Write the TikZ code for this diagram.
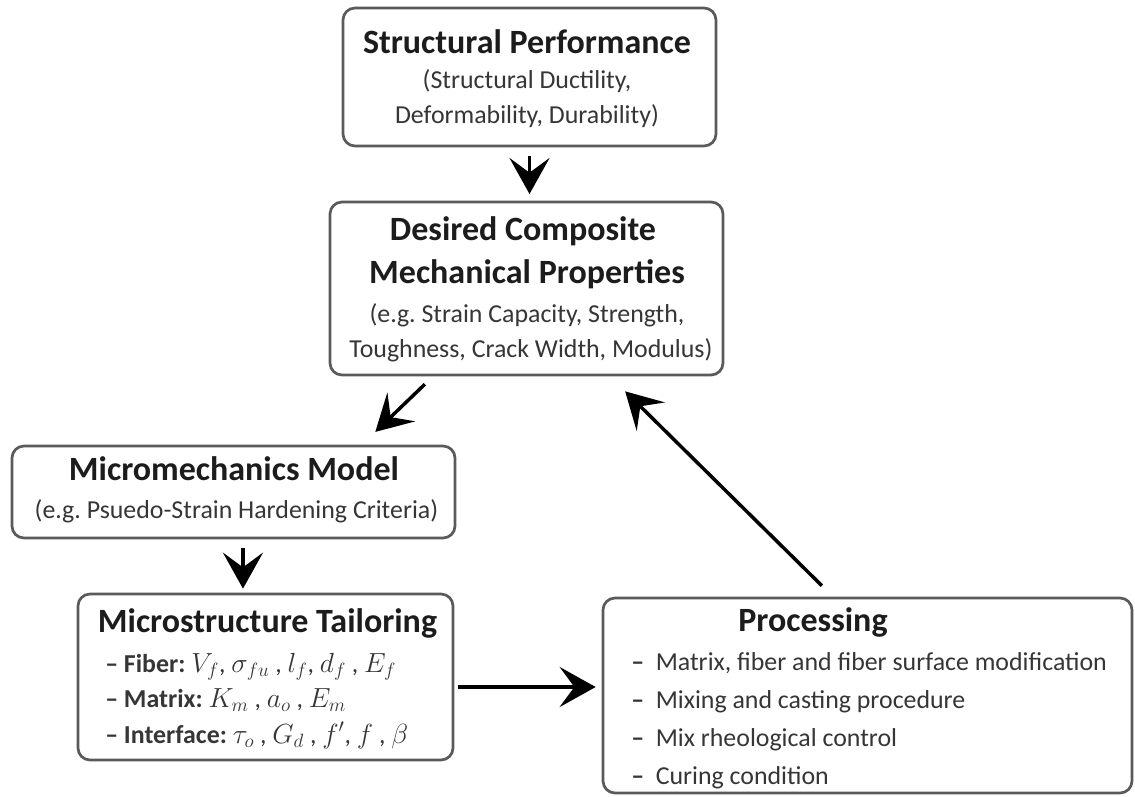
\documentclass[tikz,border=0pt]{standalone}
\usepackage{fontspec}
\setmainfont{Carlito}
\usetikzlibrary{arrows.meta}
\definecolor{boxc}{HTML}{5A5A5A}
\definecolor{titlec}{HTML}{1C1C1C}
\definecolor{subc}{HTML}{363636}
\frenchspacing
\begin{document}
\begin{tikzpicture}[x=0.75pt,y=-0.75pt,
  box/.style={draw=boxc, line width=2pt, rounded corners=9pt, fill=white, inner sep=0pt},
  ttl/.style={font=\fontsize{25.5}{30}\selectfont\bfseries, text=titlec, anchor=base, inner sep=0pt},
  sub/.style={font=\fontsize{19.4}{24}\selectfont, text=subc, anchor=base, inner sep=0pt},
  item/.style={font=\fontsize{19.4}{24}\selectfont, text=subc, anchor=base west, inner sep=0pt},
  arr/.style={line width=2.6pt, draw=black, -{Stealth[length=27pt,width=30pt,inset=11pt]}}]
\fill[white] (0,0) rectangle (1135,796);
\useasboundingbox (0,0) rectangle (1135,796);

% boxes
\node[box, minimum width=279.75pt, minimum height=103.5pt] (sp) at (529.5,77) {};
\node[box, minimum width=294.75pt, minimum height=129.75pt] (dc) at (526.5,288.5) {};
\node[box, minimum width=332.25pt, minimum height=69pt] (mm) at (233.5,492) {};
\node[box, minimum width=281.25pt, minimum height=124.5pt] (mt) at (265.5,677) {};
\node[box, minimum width=396.75pt, minimum height=146.25pt] (pr) at (867.5,695.5) {};

% texts
\node[ttl] (spt) at (527,53) {Structural Performance};
\node[sub] (sps1) at (527,88) {(Structural Ductility,};
\node[sub] (sps2) at (527,123) {Deformability, Durability)};

\node[ttl] (dct1) at (523,240) {Desired Composite};
\node[ttl] (dct2) at (527,283) {Mechanical Properties};
\node[sub] (dcs1) at (527,322) {(e.g. Strain Capacity, Strength,};
\node[sub] (dcs2) at (531,357) {Toughness, Crack Width, Modulus)};

\node[ttl] (mmt) at (234,480) {Micromechanics Model};
\node[sub] (mms) at (236.5,518) {(e.g. Psuedo-Strain Hardening Criteria)};

\node[ttl] (mtt) at (267.5,632) {Microstructure Tailoring};
\node[item] (mt1) at (105,672) {\textbf{– Fiber:} $V_f$, $\sigma_{fu}$ , $l_f$, $d_f$ , $E_f$};
\node[item] (mt2) at (105,707) {\textbf{– Matrix:} $K_m$ , $a_o$ , $E_m$};
\node[item] (mt3) at (105,743) {\textbf{– Interface:} $\tau_o$ , $G_d$ , $f'$, $f$ ,\ $\beta$};

\node[ttl] (prt) at (813,631) {Processing};
\node[item] (pr1) at (631,670) {\textbf{–}\hspace{0.45em}Matrix, fiber and fiber surface modification};
\node[item] (pr2) at (631,708) {\textbf{–}\hspace{0.45em}Mixing and casting procedure};
\node[item] (pr3) at (631,746) {\textbf{–}\hspace{0.45em}Mix rheological control};
\node[item] (pr4) at (631,784) {\textbf{–}\hspace{0.45em}Curing condition};

% arrows
\draw[arr, shorten <=6.75pt, shorten >=5pt] (sp.south) -- (sp.south |- dc.north);
\draw[arr, shorten <=8.5pt, shorten >=13.8pt] ([xshift=-70.1pt]dc.south) -- ([xshift=96.4pt]mm.north);
\draw[arr, shorten <=6.75pt, shorten >=3pt] ([xshift=7.1pt]mm.south) -- ([xshift=7.1pt]mm.south |- mt.north);
\draw[arr, shorten <=3pt, shorten >=4.5pt] ([yshift=-7.5pt]mt.east) -- ([yshift=-7.5pt]mt.east -| pr.west);
\draw[arr, shorten <=11.7pt, shorten >=16pt] ([xshift=-25.9pt]pr.north) -- ([xshift=62.6pt]dc.south);
\end{tikzpicture}
\end{document}
